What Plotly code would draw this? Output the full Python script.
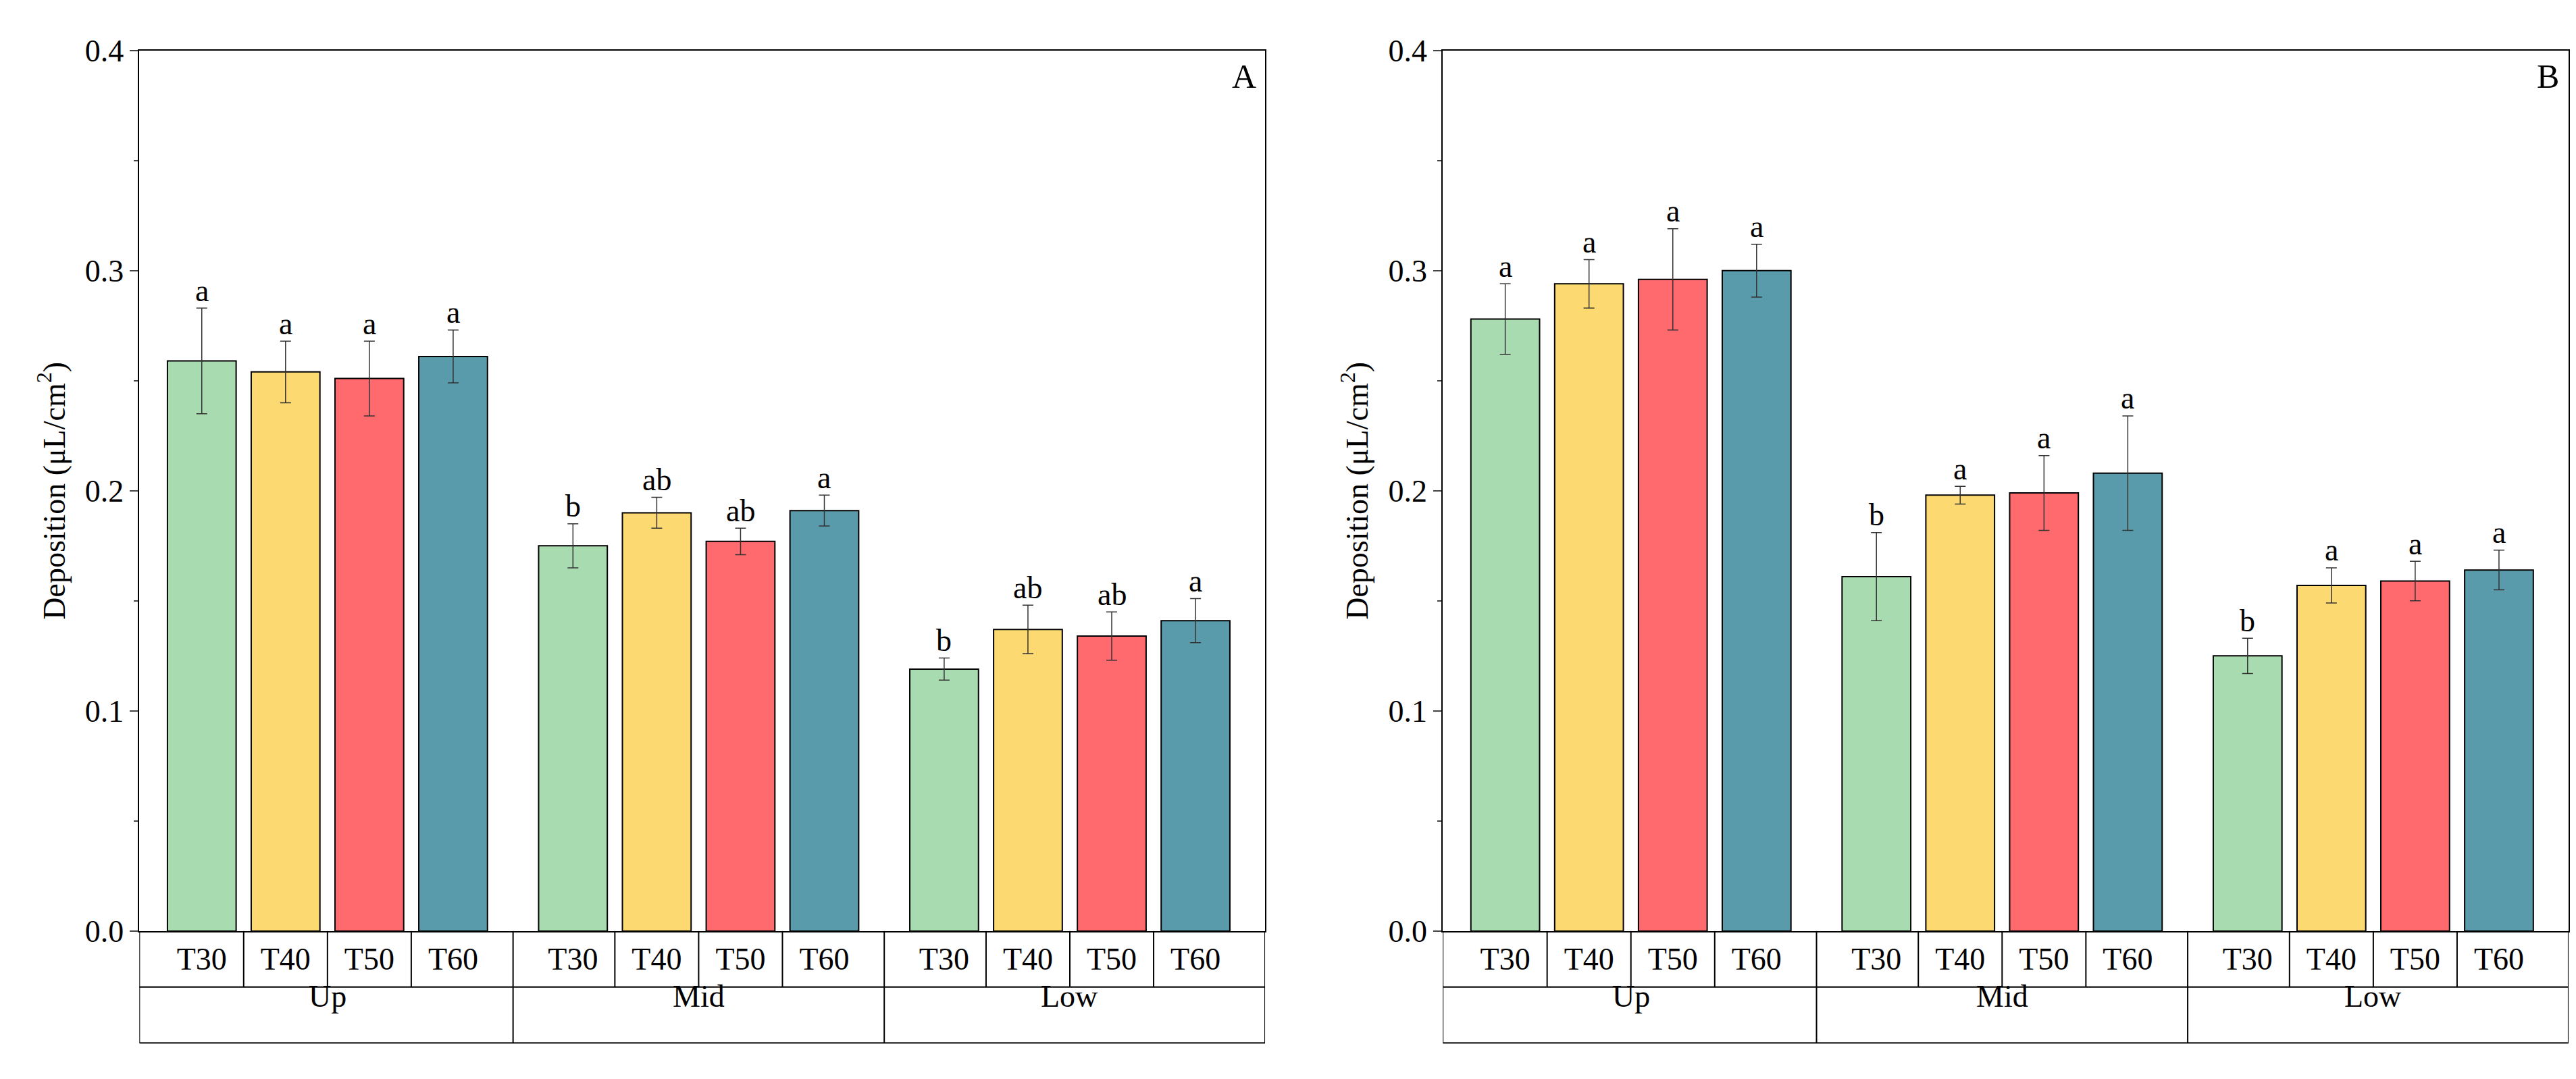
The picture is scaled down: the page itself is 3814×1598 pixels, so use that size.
import plotly.graph_objects as go

groups = ["Up", "Mid", "Low"]
treat = ["T30", "T40", "T50", "T60"]
colors = ["#a8dcb0", "#fdd971", "#fe6a6d", "#5a9bab"]

A_vals = [[0.259, 0.254, 0.251, 0.261], [0.175, 0.190, 0.177, 0.191], [0.119, 0.137, 0.134, 0.141]]
A_err = [[0.024, 0.014, 0.017, 0.012], [0.010, 0.007, 0.006, 0.007], [0.005, 0.011, 0.011, 0.010]]
A_let = [["a", "a", "a", "a"], ["b", "ab", "ab", "a"], ["b", "ab", "ab", "a"]]
B_vals = [[0.278, 0.294, 0.296, 0.300], [0.161, 0.198, 0.199, 0.208], [0.125, 0.157, 0.159, 0.164]]
B_err = [[0.016, 0.011, 0.023, 0.012], [0.020, 0.004, 0.017, 0.026], [0.008, 0.008, 0.009, 0.009]]
B_let = [["a", "a", "a", "a"], ["b", "a", "a", "a"], ["b", "a", "a", "a"]]

GS = 4.43
XMIN, XMAX = -0.745, 12.69
FONT = "Liberation Serif"
FS = 46
fig = go.Figure()
ytop, ybot, tbot = 0.973, 0.130, 0.023
trow = (ybot + tbot) / 2

panels = [("A", A_vals, A_err, A_let, [0.052, 0.489], "x", "y"),
          ("B", B_vals, B_err, B_let, [0.558, 0.995], "x2", "y2")]
for name, vals, errs, lets, dom, xr, yr in panels:
    for j in range(4):
        xs = [j + g * GS for g in range(3)]
        fig.add_trace(go.Bar(x=xs, y=[vals[g][j] for g in range(3)], width=0.82,
                             marker=dict(color=colors[j], line=dict(color="black", width=2)),
                             error_y=dict(type="data", array=[errs[g][j] for g in range(3)],
                                          color="#333", thickness=1.5, width=8),
                             xaxis=xr, yaxis=yr, showlegend=False))
        for g in range(3):
            fig.add_annotation(x=xs[g], y=vals[g][j] + errs[g][j], text=lets[g][j], showarrow=False,
                               yshift=26, xref=xr, yref=yr, font=dict(family=FONT, size=FS, color="black"))
    sfx = "" if xr == "x" else "2"
    xa = dict(domain=dom, range=[XMIN, XMAX], showgrid=False, zeroline=False, showline=True,
              linecolor="black", linewidth=2, mirror=True, ticks="",
              tickvals=[j + g * GS for g in range(3) for j in range(4)],
              ticktext=[t for g in range(3) for t in treat],
              tickfont=dict(family=FONT, size=FS, color="black"), anchor=yr)
    ya = dict(domain=[ybot, ytop], range=[0, 0.4], dtick=0.1, tickformat=".1f", showgrid=False,
              zeroline=False, showline=True, linecolor="black", linewidth=2, mirror=True,
              ticks="outside", ticklen=12, tickwidth=2, minor=dict(ticks="outside", ticklen=6, dtick=0.05, tickwidth=2),
              tickfont=dict(family=FONT, size=FS, color="black"), anchor=xr,
              title=dict(text="Deposition (μL/cm<sup>2</sup>)", font=dict(family=FONT, size=FS, color="black")))
    fig.layout["xaxis" + sfx] = xa
    fig.layout["yaxis" + sfx] = ya
    fig.add_annotation(x=dom[1] - 0.003, y=ytop - 0.005, xref="paper", yref="paper", text=name,
                       showarrow=False, xanchor="right", yanchor="top", font=dict(family=FONT, size=50, color="black"))
    ln = dict(color="black", width=2)
    fig.add_shape(type="line", x0=XMIN, x1=XMAX, y0=trow, y1=trow, xref=xr, yref="paper", line=ln)
    fig.add_shape(type="line", x0=XMIN, x1=XMAX, y0=tbot, y1=tbot, xref=xr, yref="paper", line=ln)
    for xe in [XMIN, XMAX]:
        fig.add_shape(type="line", x0=xe, x1=xe, y0=tbot, y1=ybot, xref=xr, yref="paper", line=ln)
    for g in range(3):
        for j in range(4):
            c = j + g * GS
            if j < 3:
                fig.add_shape(type="line", x0=c + 0.5, x1=c + 0.5, y0=trow, y1=ybot, xref=xr, yref="paper", line=ln)
        if g < 2:
            b = 3 + g * GS + (GS - 3) / 2
            fig.add_shape(type="line", x0=b, x1=b, y0=tbot, y1=ybot, xref=xr, yref="paper", line=ln)
        fig.add_annotation(x=1.5 + g * GS, y=(trow + tbot) / 2, xref=xr, yref="paper", text=groups[g],
                           showarrow=False, font=dict(family=FONT, size=FS, color="black"))

fig.update_layout(width=3814, height=1598, plot_bgcolor="white", paper_bgcolor="white",
                  margin=dict(l=0, r=0, t=0, b=0), barmode="overlay")
fig.write_html("out.html")
